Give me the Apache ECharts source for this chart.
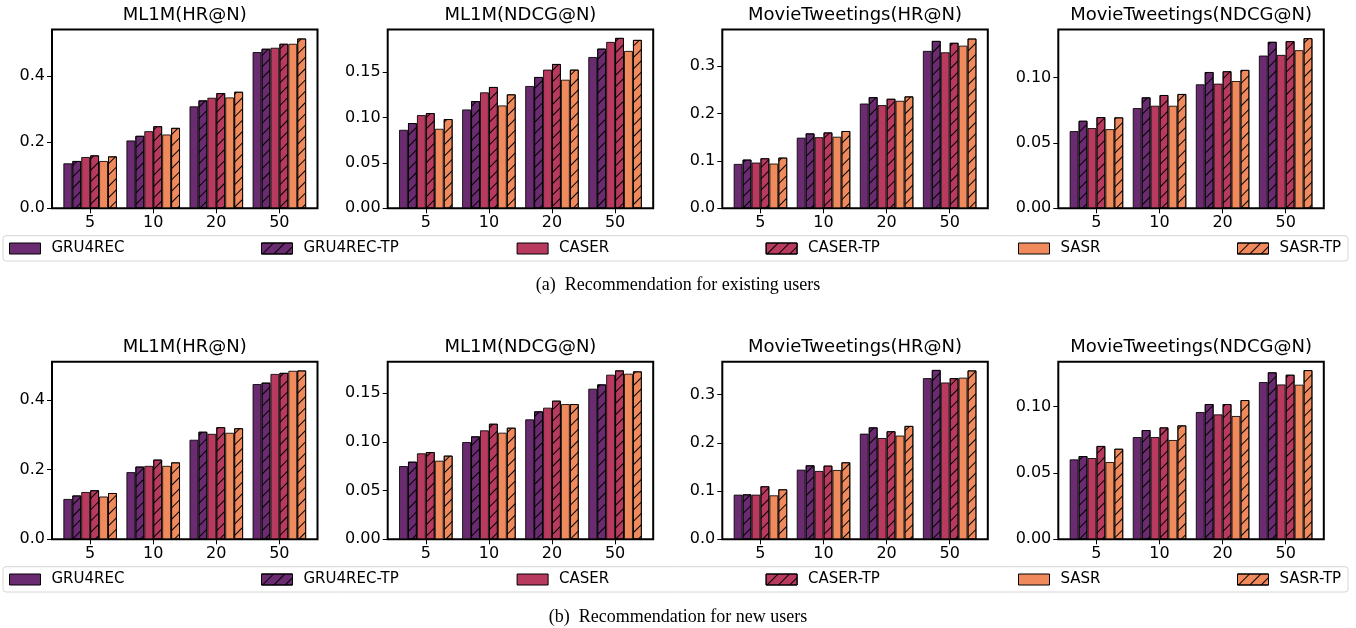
<!DOCTYPE html>
<html><head><meta charset="utf-8">
<script src="https://cdn.jsdelivr.net/npm/echarts@6/dist/echarts.min.js"></script>
<style>html,body{margin:0;padding:0;background:#fff}#c{width:1356px;height:628px}</style>
</head><body><div id="c"></div>
<script>
// ---------------- data ----------------
const categories = ['5', '10', '20', '50'];
const methods = ['GRU4REC', 'GRU4REC-TP', 'CASER', 'CASER-TP', 'SASR', 'SASR-TP'];
const titles = ['ML1M(HR@N)', 'ML1M(NDCG@N)', 'MovieTweetings(HR@N)', 'MovieTweetings(NDCG@N)'];
const captions = ['(a)  Recommendation for existing users', '(b)  Recommendation for new users'];
const yTickLabels = [
  ['0.0', '0.2', '0.4'],
  ['0.00', '0.05', '0.10', '0.15'],
  ['0.0', '0.1', '0.2', '0.3'],
  ['0.00', '0.05', '0.10']
];
const yMaxExisting = [0.540, 0.1967, 0.377, 0.1368];
const yMaxNew = [0.510, 0.1825, 0.368, 0.1339];

// rows: methods (same order as `methods`), columns: N = 5, 10, 20, 50
const existing_ML1M_HR = [
  [0.136, 0.205, 0.308, 0.472],
  [0.143, 0.219, 0.326, 0.482],
  [0.155, 0.233, 0.334, 0.485],
  [0.160, 0.248, 0.348, 0.497],
  [0.143, 0.223, 0.335, 0.497],
  [0.157, 0.243, 0.352, 0.513]
];
const existing_ML1M_NDCG = [
  [0.0864, 0.1088, 0.1346, 0.1665],
  [0.0938, 0.1180, 0.1445, 0.1757],
  [0.1026, 0.1276, 0.1526, 0.1831],
  [0.1048, 0.1335, 0.1588, 0.1875],
  [0.0875, 0.1132, 0.1415, 0.1732],
  [0.0982, 0.1254, 0.1526, 0.1853]
];
const existing_MT_HR = [
  [0.0937, 0.149, 0.221, 0.332],
  [0.1028, 0.158, 0.2345, 0.353],
  [0.0965, 0.150, 0.2176, 0.329],
  [0.1056, 0.160, 0.231, 0.349],
  [0.0944, 0.151, 0.2268, 0.343],
  [0.107, 0.163, 0.236, 0.358]
];
const existing_MT_NDCG = [
  [0.0591, 0.0767, 0.0949, 0.1169],
  [0.0670, 0.0849, 0.1043, 0.1274],
  [0.0614, 0.0785, 0.0954, 0.1174],
  [0.0698, 0.0867, 0.1049, 0.1279],
  [0.0606, 0.0785, 0.0974, 0.1210],
  [0.0696, 0.0875, 0.1059, 0.1302]
];
const new_ML1M_HR = [
  [0.116, 0.193, 0.286, 0.446],
  [0.126, 0.209, 0.309, 0.450],
  [0.136, 0.211, 0.303, 0.475],
  [0.141, 0.229, 0.322, 0.478],
  [0.123, 0.211, 0.306, 0.484],
  [0.133, 0.221, 0.319, 0.485]
];
const new_ML1M_NDCG = [
  [0.0753, 0.1000, 0.1233, 0.1548],
  [0.0798, 0.1058, 0.1315, 0.1592],
  [0.0884, 0.1120, 0.1353, 0.1692],
  [0.0897, 0.1188, 0.1425, 0.1736],
  [0.0808, 0.1096, 0.1390, 0.1702],
  [0.0860, 0.1147, 0.1390, 0.1726]
];
const new_MT_HR = [
  [0.0926, 0.1444, 0.219, 0.334],
  [0.0933, 0.1534, 0.232, 0.351],
  [0.0926, 0.1417, 0.210, 0.325],
  [0.110, 0.1527, 0.224, 0.334],
  [0.0912, 0.1437, 0.215, 0.335],
  [0.1037, 0.1596, 0.235, 0.350]
];
const new_MT_NDCG = [
  [0.0603, 0.0771, 0.0960, 0.1186],
  [0.0628, 0.0824, 0.1020, 0.1259],
  [0.0613, 0.0771, 0.0942, 0.1168],
  [0.0704, 0.0844, 0.1020, 0.1241],
  [0.0583, 0.0749, 0.0930, 0.1166],
  [0.0683, 0.0859, 0.1050, 0.1276]
];

// ---------------- style / layout ----------------
const methodColors = ['#6b2b70', '#6b2b70', '#b83a5e', '#b83a5e', '#f08a5c', '#f08a5c'];
const hatched = [false, true, false, true, false, true];
const FONT = '"DejaVu Sans", Verdana, sans-serif';
const SERIF = '"Liberation Serif", "DejaVu Serif", serif';

const plots = [
  [existing_ML1M_HR, existing_ML1M_NDCG, existing_MT_HR, existing_MT_NDCG],
  [new_ML1M_HR, new_ML1M_NDCG, new_MT_HR, new_MT_NDCG]
];
const yMax = [yMaxExisting, yMaxNew];

const frameLeft = [52, 387.7, 722.3, 1058.3];
const frameW = 265.5;
const rowTop = [29.5, 361.7];
const rowH = [178.8, 177.6];
const inset = 6.6;
const titleY = [15.5, 347];
const legendTop = [241, 572];
const legendBoxY = [235.7, 566.7];
const captionY = [285, 617];
const legendX = [9, 261, 516.6, 765.6, 1018, 1237];

const hatchDecal = {
  symbol: 'rect', symbolSize: 1,
  dashArrayX: [1, 0], dashArrayY: [1, 6.5],
  rotation: -Math.PI / 4,
  color: '#000'
};

const grid = [], xAxis = [], yAxis = [], series = [], legend = [], graphic = [];

for (let r = 0; r < 2; r++) {
  for (let c = 0; c < 4; c++) {
    const p = r * 4 + c;
    const labels = yTickLabels[c];
    const vals = labels.map(Number);
    grid.push({ left: frameLeft[c], top: rowTop[r], width: frameW, height: rowH[r],
      show: true, borderColor: '#000', borderWidth: 2, backgroundColor: 'transparent' });
    grid.push({ left: frameLeft[c] + inset, top: rowTop[r], width: frameW - 2 * inset, height: rowH[r] });
    xAxis.push({ gridIndex: 2 * p, type: 'value', show: false, min: 0, max: 1 });
    xAxis.push({ gridIndex: 2 * p + 1, type: 'category', data: categories,
      axisLine: { show: false },
      axisTick: { show: true, alignWithLabel: true, length: 5, lineStyle: { color: '#000', width: 1 } },
      axisLabel: { color: '#000', fontSize: 16, fontFamily: FONT, margin: 7 },
      splitLine: { show: false } });
    yAxis.push({ gridIndex: 2 * p, type: 'value', min: 0, max: yMax[r][c],
      axisLine: { show: false },
      axisTick: { show: true, length: 5, customValues: vals, lineStyle: { color: '#000', width: 1 } },
      axisLabel: { customValues: vals, color: '#000', fontSize: 16, fontFamily: FONT, margin: 7,
        formatter: v => { const s = labels.find(t => Math.abs(Number(t) - v) < 1e-9); return s === undefined ? '' : s; } },
      splitLine: { show: false } });
    yAxis.push({ gridIndex: 2 * p + 1, type: 'value', min: 0, max: yMax[r][c], show: false });

    methods.forEach((m, i) => {
      const itemStyle = { color: methodColors[i], borderColor: 'rgba(0,0,0,0.85)', borderWidth: 1 };
      if (hatched[i]) itemStyle.decal = hatchDecal;
      series.push({ type: 'bar', name: m, xAxisIndex: 2 * p + 1, yAxisIndex: 2 * p + 1,
        data: plots[r][c][i], barGap: '0%', barCategoryGap: '15%',
        itemStyle, silent: true, emphasis: { disabled: true } });
    });

    graphic.push({ type: 'text', x: frameLeft[c] + frameW / 2, y: titleY[r],
      style: { text: titles[c], fill: '#000', fontSize: 18, fontFamily: FONT, align: 'center', verticalAlign: 'middle' } });
  }
  methods.forEach((m, i) => {
    legend.push({ data: [m], left: legendX[i], top: legendTop[r], padding: 0, itemGap: 0,
      icon: 'rect', itemWidth: 31, itemHeight: 11, selectedMode: false,
      itemStyle: { borderColor: '#000', borderWidth: 1 },
      textStyle: { fontSize: 15, color: '#000', fontFamily: FONT, padding: [0, 0, 0, 6] } });
  });
  graphic.push({ type: 'rect', z: -10, shape: { x: 3, y: legendBoxY[r], width: 1345, height: 25.3, r: 3 },
    style: { fill: '#fff', stroke: '#d6d6d6', lineWidth: 1 } });
  graphic.push({ type: 'text', x: 678, y: captionY[r],
    style: { text: captions[r], fill: '#000', fontSize: 18, fontFamily: SERIF, align: 'center', verticalAlign: 'middle' } });
}

const chart = echarts.init(document.getElementById('c'), null, { renderer: 'canvas' });
chart.setOption({
  animation: false,
  backgroundColor: '#fff',
  grid, xAxis, yAxis, series, legend, graphic
});
</script>
</body></html>
